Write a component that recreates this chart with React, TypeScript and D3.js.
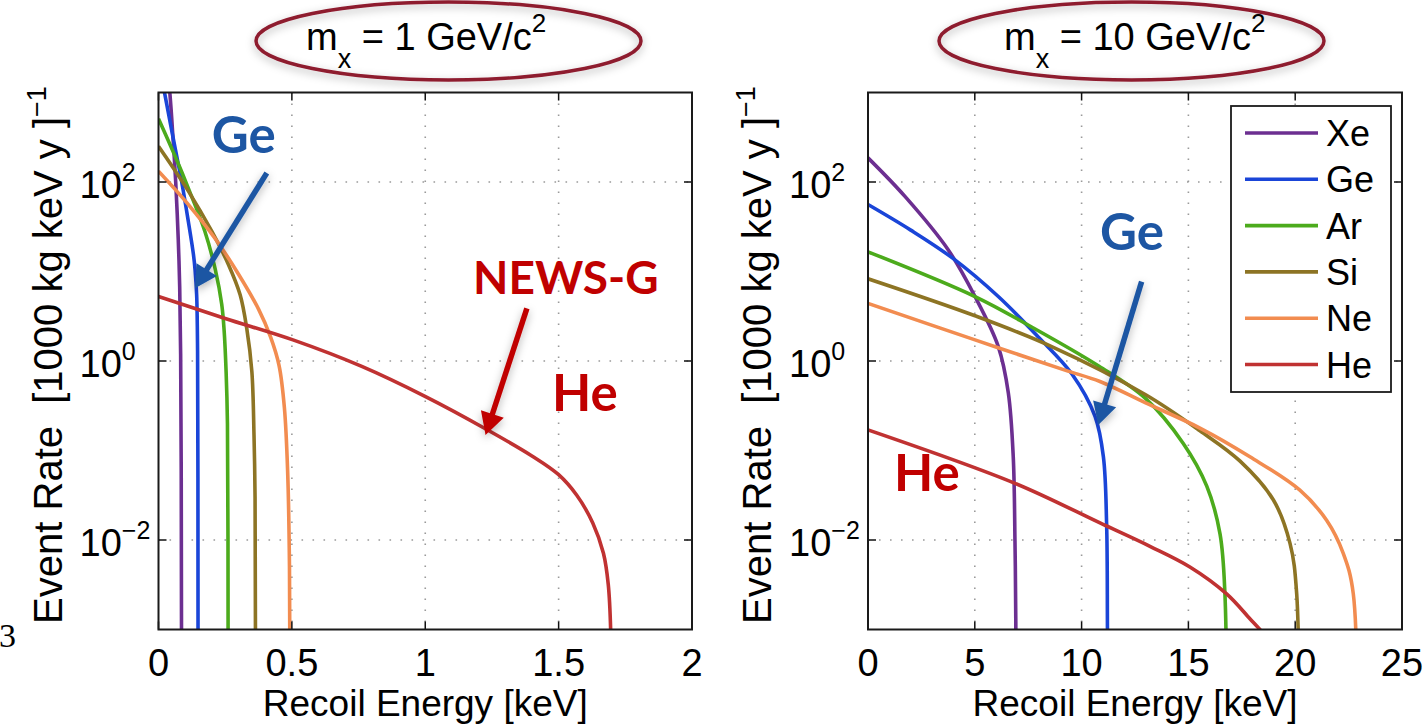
import React, { useEffect } from 'react';
import * as d3 from 'd3';

type Pt = [number, number];

// ---- mχ = 1 GeV/c² : [recoil energy (keV), event rate] ----
const lightXe: Pt[] = [[0, 20000], [0.02, 5000], [0.043, 950], [0.055, 290], [0.0645, 100], [0.074, 23], [0.0795, 6.6], [0.083, 1.2], [0.0852, 0.06], [0.0862, 0.001], [0.0866, 1e-6]];
const lightGe: Pt[] = [[0, 2100], [0.024, 945], [0.05, 370], [0.087, 100], [0.112, 36], [0.131, 15.5], [0.137, 10.5], [0.143, 5.5], [0.1465, 1.3], [0.1478, 0.05], [0.1485, 1e-6]];
const lightAr: Pt[] = [[0, 510], [0.062, 195], [0.112, 85], [0.174, 28], [0.213, 10.5], [0.237, 4.3], [0.246, 2.2], [0.2535, 0.75], [0.2585, 0.2], [0.2605, 0.01], [0.2615, 1e-6]];
const lightSi: Pt[] = [[0, 250], [0.112, 79], [0.2, 28], [0.262, 12], [0.306, 5.5], [0.331, 2.3], [0.35, 0.76], [0.358, 0.15], [0.362, 0.03], [0.3645, 1e-6]];
const lightNe: Pt[] = [[0, 132], [0.112, 56], [0.212, 23.4], [0.3, 9.33], [0.375, 3.8], [0.42, 1.86], [0.452, 0.89], [0.472, 0.3], [0.484, 0.06], [0.491, 0.005], [0.494, 1e-6]];
const lightHe: Pt[] = [[0, 5.25], [0.25, 2.99], [0.504, 1.72], [0.762, 0.87], [1.001, 0.4], [1.227, 0.174], [1.4, 0.087], [1.499, 0.054], [1.568, 0.0316], [1.628, 0.0155], [1.668, 0.0071], [1.686, 0.0032], [1.695, 0.001], [1.7, 1e-6]];

// ---- mχ = 10 GeV/c² ----
const heavyXe: Pt[] = [[0, 186], [1.73, 69], [3.76, 17.4], [5.01, 5.25], [6.1, 1.45], [6.57, 0.44], [6.8, 0.085], [6.88, 0.01], [6.92, 0.0012], [6.95, 1e-6]];
const heavyGe: Pt[] = [[0, 56], [2, 29], [3.98, 14], [6.1, 5.25], [7.97, 1.86], [9.54, 0.72], [10.63, 0.24], [11.02, 0.085], [11.17, 0.0155], [11.21, 0.001], [11.24, 1e-6]];
const heavyAr: Pt[] = [[0, 16.6], [5.01, 5.25], [7.66, 2.4], [10.8, 0.88], [13.0, 0.38], [14.76, 0.12], [15.86, 0.04], [16.48, 0.0117], [16.71, 0.0025], [16.8, 1e-6]];
const heavySi: Pt[] = [[0, 8.3], [5.01, 3.2], [8.6, 1.45], [13.0, 0.42], [15.54, 0.166], [17.42, 0.076], [18.98, 0.028], [19.76, 0.0091], [20.07, 0.0025], [20.2, 1e-6]];
const heavyNe: Pt[] = [[0, 4.4], [5.01, 1.72], [9.22, 0.79], [10.86, 0.59], [13.0, 0.34], [15.54, 0.178], [17.88, 0.085], [20.22, 0.036], [21.47, 0.0166], [22.25, 0.0071], [22.72, 0.0025], [22.9, 1e-6]];
const heavyHe: Pt[] = [[0, 0.17], [6.88, 0.043], [10.86, 0.0155], [13.2, 0.0085], [15.07, 0.005], [16.79, 0.0025], [17.88, 0.00132], [18.5, 0.00091], [19.2, 0.00055]];

const targets = ['Xe', 'Ge', 'Ar', 'Si', 'Ne', 'He'];
const colors = ['#6c2f91', '#1a45d8', '#4cab1c', '#8d7424', '#f28c50', '#c03232'];
const lightSeries = [lightXe, lightGe, lightAr, lightSi, lightNe, lightHe];
const heavySeries = [heavyXe, heavyGe, heavyAr, heavySi, heavyNe, heavyHe];

const lightXTicks = [0, 0.5, 1, 1.5, 2];
const heavyXTicks = [0, 5, 10, 15, 20, 25];
const yTicks = [1e-2, 1, 1e2];
const yTickExp = ['−2', '0', '2'];

// annotations in data coordinates [E, rate]
const lightGeArrow: Pt[] = [[0.406, 126], [0.137, 6.5]];
const newsArrow: Pt[] = [[1.381, 3.88], [1.226, 0.149]];
const heavyGeArrow: Pt[] = [[12.81, 7.7], [10.78, 0.193]];

const SANS = '"Liberation Sans", Arial, Helvetica, sans-serif';
const BOLD = 'Lato, "Open Sans", sans-serif';
const annBlue = '#1d56a3';
const annRed = '#c00000';

const yScale = d3.scaleLog().domain([1e-3, 1e3]).range([629.5, 92.5]);

function Arrow({ from, to, color, x }: { from: Pt; to: Pt; color: string; x: d3.ScaleLinear<number, number> }) {
  const x1 = x(from[0]), y1 = yScale(from[1]);
  const x2 = x(to[0]), y2 = yScale(to[1]);
  const dx = x2 - x1, dy = y2 - y1;
  const L = Math.hypot(dx, dy);
  const ux = dx / L, uy = dy / L;
  const hl = 22, hw = 12;
  const bx = x2 - ux * hl, by = y2 - uy * hl;
  const px = -uy, py = ux;
  return (
    <g filter="url(#shadow)">
      <line x1={x1} y1={y1} x2={bx + ux * 2} y2={by + uy * 2} stroke={color} strokeWidth={5.5} />
      <polygon points={`${x2},${y2} ${bx + px * hw},${by + py * hw} ${bx - px * hw},${by - py * hw}`} fill={color} />
    </g>
  );
}

function Panel({ id, x, series, xTicks, mass, ellipseX, titleX }: { id: string; x: d3.ScaleLinear<number, number>; series: Pt[][]; xTicks: number[]; mass: string; ellipseX: number; titleX: number }) {
  const [x0, x1] = x.range();
  const y0 = yScale.range()[1], yb = yScale.range()[0];
  const line = d3.line<Pt>().x(d => x(d[0])).y(d => yScale(Math.max(d[1], 1e-9))).curve(d3.curveCatmullRom.alpha(0.5));
  const cx = (x0 + x1) / 2;
  const tickLen = 8;
  return (
    <g>
      <defs>
        <clipPath id={`clip-${id}`}>
          <rect x={x0} y={y0} width={x1 - x0} height={yb - y0} />
        </clipPath>
      </defs>
      <rect x={x0} y={y0} width={x1 - x0} height={yb - y0} fill="#fff" />
      {/* grid */}
      {xTicks.slice(1, -1).map(t => (
        <line key={`gx${t}`} x1={x(t)} x2={x(t)} y1={y0} y2={yb} stroke="#9a9a9a" strokeWidth={1.6} strokeDasharray="1.6 9.4" />
      ))}
      {yTicks.map(t => (
        <line key={`gy${t}`} x1={x0} x2={x1} y1={yScale(t)} y2={yScale(t)} stroke="#9a9a9a" strokeWidth={1.6} strokeDasharray="1.6 9.4" />
      ))}
      {/* curves */}
      <g clipPath={`url(#clip-${id})`}>
        {series.map((s, i) => (
          <path key={targets[i]} d={line(s) || ''} fill="none" stroke={colors[i]} strokeWidth={3.6} strokeLinejoin="round" />
        ))}
      </g>
      {/* ticks */}
      {xTicks.map(t => (
        <g key={`tx${t}`}>
          <line x1={x(t)} x2={x(t)} y1={yb} y2={yb - tickLen} stroke="#111" strokeWidth={1.5} />
          <line x1={x(t)} x2={x(t)} y1={y0} y2={y0 + tickLen} stroke="#111" strokeWidth={1.5} />
          <text x={x(t)} y={676} textAnchor="middle" fontSize={38} fontFamily={SANS} fill="#000">{String(t)}</text>
        </g>
      ))}
      {yTicks.map((t, i) => (
        <g key={`ty${t}`}>
          <line x1={x0} x2={x0 + tickLen} y1={yScale(t)} y2={yScale(t)} stroke="#111" strokeWidth={1.5} />
          <line x1={x1} x2={x1 - tickLen} y1={yScale(t)} y2={yScale(t)} stroke="#111" strokeWidth={1.5} />
          <text x={x0 - 79} y={yScale(t) + 16} fontSize={38} fontFamily={SANS} fill="#000">
            10<tspan dy={-17} fontSize={25}>{yTickExp[i]}</tspan>
          </text>
        </g>
      ))}
      {/* box */}
      <rect x={x0} y={y0} width={x1 - x0} height={yb - y0} fill="none" stroke="#1a1a1a" strokeWidth={2} />
      {/* axis labels */}
      <text x={cx} y={716} textAnchor="middle" fontSize={37} fontFamily={SANS} fill="#000">Recoil Energy [keV]</text>
      <text transform={`translate(${x0 - 97},355) rotate(-90)`} textAnchor="middle" fontSize={40} fontFamily={SANS} fill="#000" style={{ whiteSpace: 'pre' }}>
        {'Event Rate  [1000 kg keV y ]'}<tspan dy={-16} fontSize={27}>−1</tspan>
      </text>
      {/* title ellipse */}
      <ellipse cx={ellipseX} cy={41} rx={192.5} ry={39} fill="none" stroke="#8e1b2f" strokeWidth={3.5} filter="url(#shadow)" />
      <text x={titleX} y={50} fontSize={38} fontFamily={SANS} fill="#000" style={{ whiteSpace: 'pre' }}>
        m<tspan dy={18} fontSize={27}>x</tspan><tspan dy={-18} fontSize={38}>{` = ${mass} GeV/c`}</tspan><tspan dy={-18} fontSize={26}>2</tspan>
      </text>
    </g>
  );
}

export default function App() {
  useEffect(() => {
    document.body.style.margin = '0';
  }, []);
  const xL = d3.scaleLinear().domain([0, 2]).range([158.5, 692]);
  const xR = d3.scaleLinear().domain([0, 25]).range([868, 1402]);
  const legX = 1231, legY = 106, legW = 160, legH = 286;
  return (
    <svg width={1427} height={724} style={{ position: 'absolute', left: 0, top: 0, background: '#fff' }}>
      <defs>
        <filter id="shadow" x="-20%" y="-40%" width="140%" height="180%">
          <feDropShadow dx={0} dy={3} stdDeviation={4} floodColor="#000" floodOpacity={0.3} />
        </filter>
      </defs>
      <rect width={1427} height={724} fill="#fff" />
      <Panel id="l" x={xL} series={lightSeries} xTicks={lightXTicks} mass="1" ellipseX={448.5} titleX={306} />
      <Panel id="r" x={xR} series={heavySeries} xTicks={heavyXTicks} mass="10" ellipseX={1131.5} titleX={1004} />

      {/* legend */}
      <rect x={legX} y={legY} width={legW} height={legH} fill="#fff" stroke="#1a1a1a" strokeWidth={1.8} />
      {targets.map((t, i) => {
        const yy = legY + 27 + i * 46.3;
        return (
          <g key={t}>
            <line x1={legX + 14} x2={legX + 87} y1={yy} y2={yy} stroke={colors[i]} strokeWidth={3.6} />
            <text x={legX + 95} y={yy + 13} fontSize={36} fontFamily={SANS} fill="#000">{t}</text>
          </g>
        );
      })}

      {/* annotations */}
      <Arrow from={lightGeArrow[0]} to={lightGeArrow[1]} color={annBlue} x={xL} />
      <Arrow from={newsArrow[0]} to={newsArrow[1]} color={annRed} x={xL} />
      <Arrow from={heavyGeArrow[0]} to={heavyGeArrow[1]} color={annBlue} x={xR} />
      <text x={xL(0.2)} y={yScale(213)} fontSize={51} fontWeight={700} fontFamily={BOLD} fill={annBlue}>Ge</text>
      <text x={xL(1.179)} y={yScale(5.6)} fontSize={46} fontWeight={700} fontFamily={BOLD} fill={annRed}>NEWS-G</text>
      <text x={xL(1.475)} y={yScale(0.276)} fontSize={51} fontWeight={700} fontFamily={BOLD} fill={annRed}>He</text>
      <text x={xR(10.86)} y={yScale(17.4)} fontSize={51} fontWeight={700} fontFamily={BOLD} fill={annBlue}>Ge</text>
      <text x={xR(1.22)} y={yScale(0.0355)} fontSize={51} fontWeight={700} fontFamily={BOLD} fill={annRed}>He</text>

      {/* stray slide page number */}
      <text x={-1} y={647} fontSize={34} fontFamily='"Liberation Serif", "Times New Roman", serif' fill="#000">3</text>
    </svg>
  );
}
